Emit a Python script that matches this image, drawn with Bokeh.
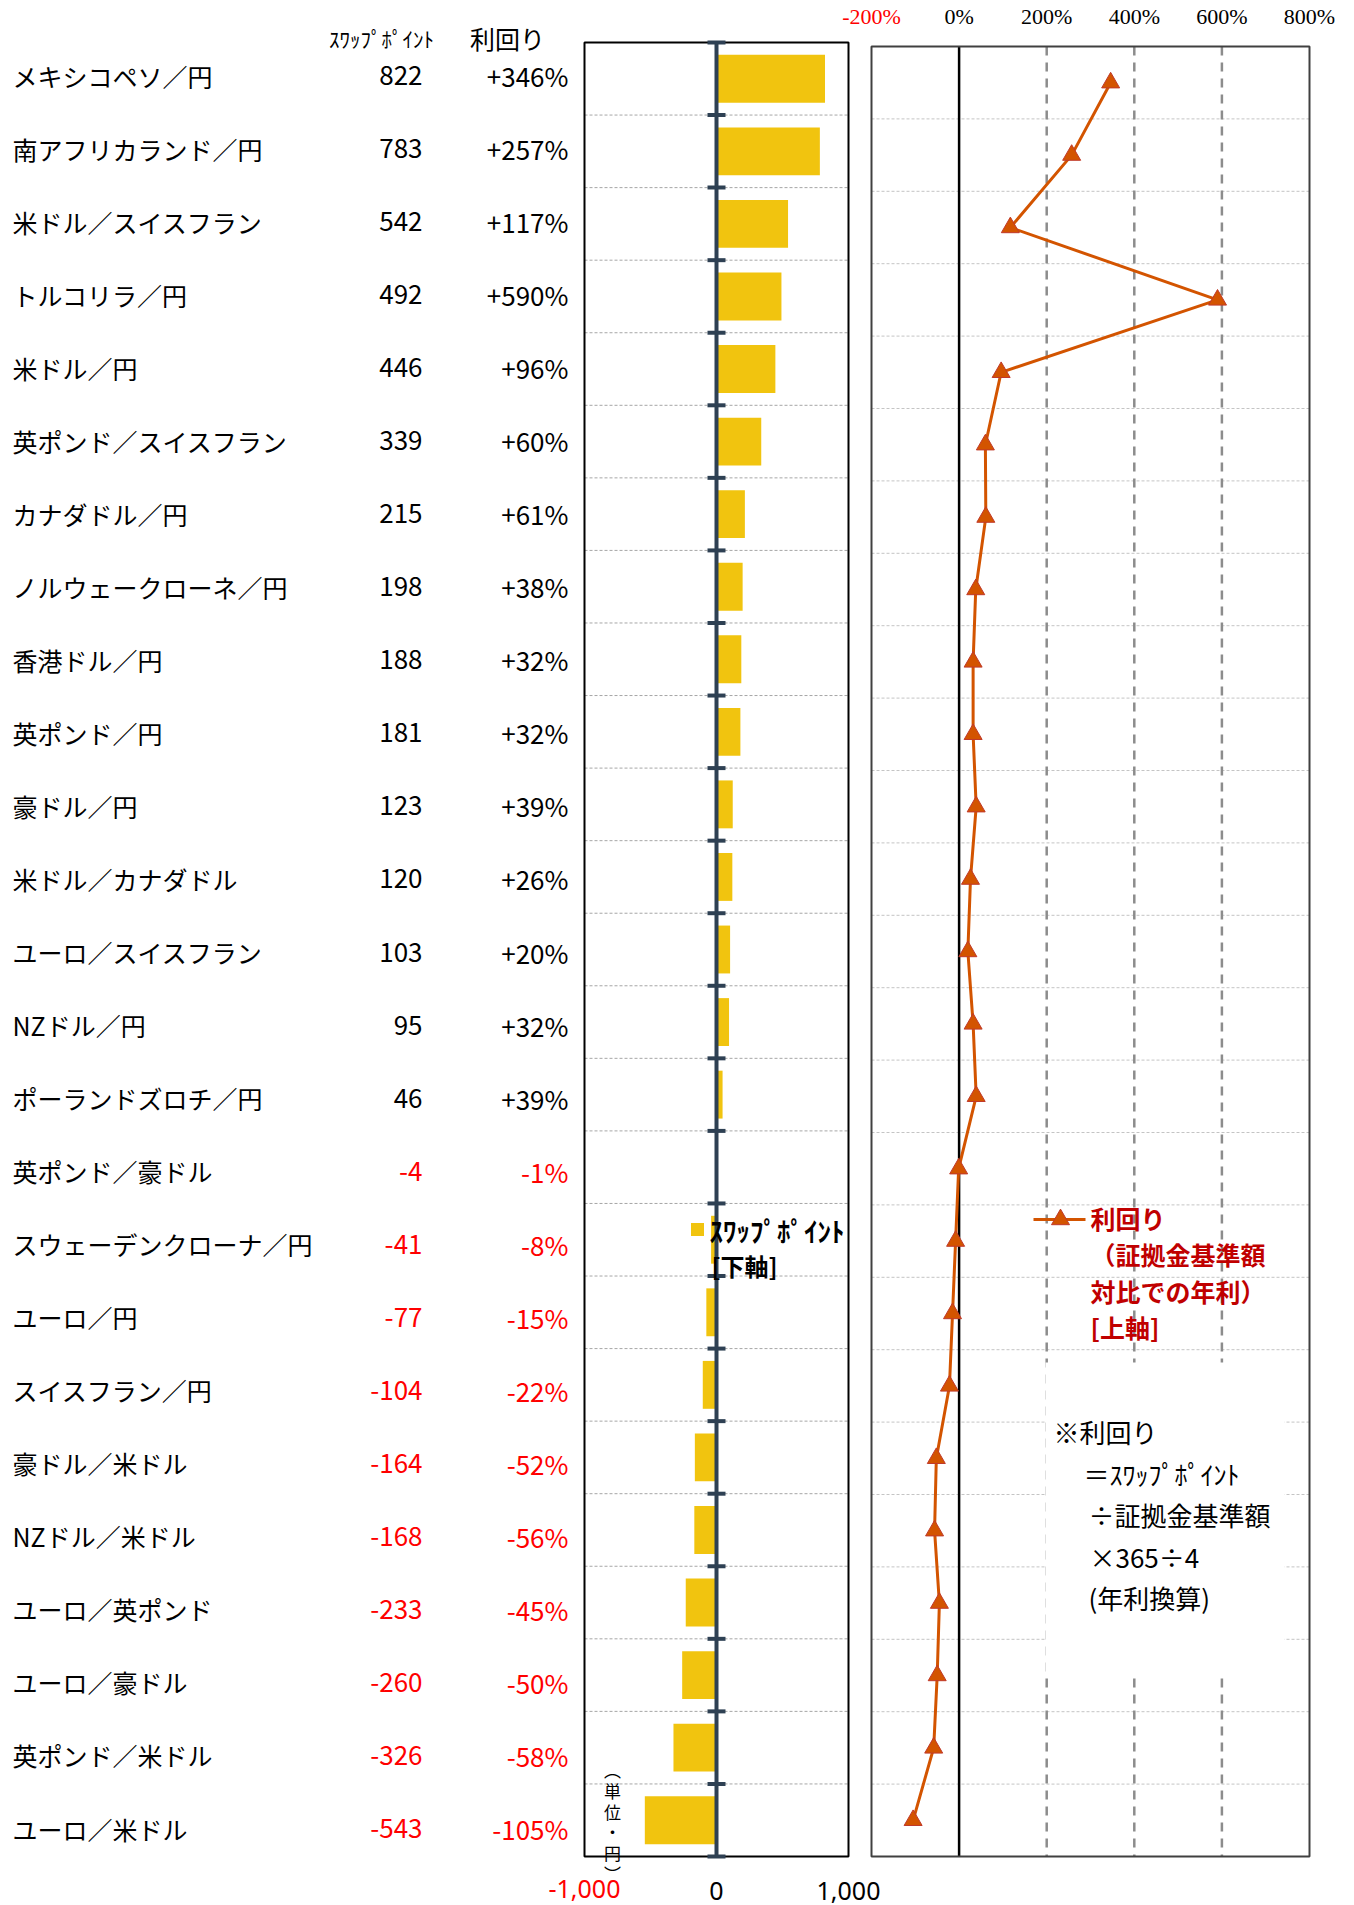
from bokeh.plotting import figure
from bokeh.models import Range1d, LinearAxis, FixedTicker, Label
from bokeh.core.properties import value
from bokeh.embed import file_html
from bokeh.resources import INLINE

# ---------------- data ----------------
names = ["メキシコペソ／円", "南アフリカランド／円", "米ドル／スイスフラン", "トルコリラ／円",
         "米ドル／円", "英ポンド／スイスフラン", "カナダドル／円", "ノルウェークローネ／円",
         "香港ドル／円", "英ポンド／円", "豪ドル／円", "米ドル／カナダドル",
         "ユーロ／スイスフラン", "NZドル／円", "ポーランドズロチ／円", "英ポンド／豪ドル",
         "スウェーデンクローナ／円", "ユーロ／円", "スイスフラン／円", "豪ドル／米ドル",
         "NZドル／米ドル", "ユーロ／英ポンド", "ユーロ／豪ドル", "英ポンド／米ドル", "ユーロ／米ドル"]
swap_points = [822, 783, 542, 492, 446, 339, 215, 198, 188, 181, 123, 120, 103, 95, 46,
               -4, -41, -77, -104, -164, -168, -233, -260, -326, -543]
yields = [346, 257, 117, 590, 96, 60, 61, 38, 32, 32, 39, 26, 20, 32, 39,
          -1, -8, -15, -22, -52, -56, -45, -50, -58, -105]

bar_ticks = [-1000, 0, 1000]
bar_tick_labels = ["-1,000", "0", "1,000"]
yld_ticks = [-200, 0, 200, 400, 600, 800]
yld_tick_labels = ["-200%", "0%", "200%", "400%", "600%", "800%"]

header_swap = "ｽﾜｯﾌﾟﾎﾟｲﾝﾄ"
header_yield = "利回り"
bar_legend_lines = ["ｽﾜｯﾌﾟﾎﾟｲﾝﾄ", "[下軸]"]
line_legend_lines = ["利回り", "（証拠金基準額", "対比での年利）", "[上軸]"]
note_lines = ["※利回り", "＝ｽﾜｯﾌﾟﾎﾟｲﾝﾄ", "÷証拠金基準額", "×365÷4", "(年利換算)"]
unit_label = "︵\n単\n位\n・\n円\n︶"

# ---------------- layout (page pixels) ----------------
W, H = 1350, 1905
FT, FB = 26, 1884            # frame top / bottom
BOX_T, BOX_B = 42, 1856      # bar box
R_T, R_B = 46, 1856          # yield box
TXT_FIRST, TXT_LAST = 75, 1828   # table row text centres
BAR_L, BAR_R = 584, 848
YLD_L, YLD_R = 871, 1309
N = len(names)
BAND = (BOX_B - BOX_T) / N
RBAND = (R_B - R_T) / N
TBAND = (TXT_LAST - TXT_FIRST) / (N - 1)

JP = "Noto Sans CJK JP"
NARROW = "Liberation Sans Narrow"
BLACK = "#000000"
RED = "#FF0000"
BAR_COLOR = "#F1C40F"
LINE_COLOR = "#D35400"
AXIS_DARK = "#2E4053"


def row_range(top, band):
    return Range1d(start=(FB - top) / band - 0.5, end=(FT - top) / band - 0.5)


sb = (BAR_R - BAR_L) / (bar_ticks[-1] - bar_ticks[0])
bar_range = Range1d(start=bar_ticks[0] - BAR_L / sb, end=bar_ticks[-1] + (W - BAR_R) / sb)
sy = (YLD_R - YLD_L) / (yld_ticks[-1] - yld_ticks[0])
yld_range = Range1d(start=yld_ticks[0] - YLD_L / sy, end=yld_ticks[-1] + (W - YLD_R) / sy)

p = figure(width=W, height=H, output_backend="svg", toolbar_location=None,
           x_range=Range1d(0, W), y_range=row_range(BOX_T, BAND),
           x_axis_location=None, y_axis_location=None,
           min_border_left=0, min_border_right=0,
           min_border_top=FT, min_border_bottom=H - FB)
p.extra_x_ranges = {"bar": bar_range, "yld": yld_range}
p.extra_y_ranges = {"yr": row_range(R_T, RBAND),
                    "ty": row_range(TXT_FIRST - TBAND / 2, TBAND),
                    "py": Range1d(start=FB, end=FT)}
p.outline_line_color = None
p.background_fill_color = "white"
p.border_fill_color = "white"
p.grid.visible = False

idx = list(range(N))
bounds = [k + 0.5 for k in range(N - 1)]
edges = [k - 0.5 for k in range(N + 1)]

# ---- bar box ----
p.segment(x0=bar_ticks[0], x1=bar_ticks[-1], y0=bounds, y1=bounds, x_range_name="bar",
          line_color="#A6A6A6", line_width=1, line_dash="3 2")
p.hbar(y=idx, left=0, right=swap_points, height=0.66, x_range_name="bar",
       fill_color=BAR_COLOR, line_color=None)
p.quad(left=bar_ticks[0], right=bar_ticks[-1], top=-0.5, bottom=N - 0.5, x_range_name="bar",
       fill_color=None, line_color="black", line_width=2)
p.segment(x0=0, x1=0, y0=-0.5, y1=N - 0.5, x_range_name="bar",
          line_color=AXIS_DARK, line_width=4)
p.scatter(x=0, y=edges, marker="dash", size=18, line_width=4, line_color=AXIS_DARK,
          x_range_name="bar")

# ---- yield box ----
vgrid = [t for t in yld_ticks if t not in (yld_ticks[0], 0, yld_ticks[-1])]
p.segment(x0=yld_ticks[0], x1=yld_ticks[-1], y0=bounds, y1=bounds,
          x_range_name="yld", y_range_name="yr",
          line_color="#C4C4C4", line_width=1, line_dash="3 2")
p.segment(x0=vgrid, x1=vgrid, y0=-0.5, y1=N - 0.5, x_range_name="yld", y_range_name="yr",
          line_color="#8C8C8C", line_width=2.5, line_dash="9 7")
# white box behind the note
p.quad(left=1045, right=1284, top=1362, bottom=1677, y_range_name="py",
       fill_color="white", line_color=None)
p.segment(x0=0, x1=0, y0=-0.5, y1=N - 0.5, x_range_name="yld", y_range_name="yr",
          line_color="black", line_width=2.5)
p.quad(left=yld_ticks[0], right=yld_ticks[-1], top=-0.5, bottom=N - 0.5,
       x_range_name="yld", y_range_name="yr",
       fill_color=None, line_color="#404040", line_width=2)
p.line(x=yields, y=idx, x_range_name="yld", y_range_name="yr",
       line_color=LINE_COLOR, line_width=3)
p.scatter(x=yields, y=idx, x_range_name="yld", y_range_name="yr", marker="triangle",
          size=18, fill_color=LINE_COLOR, line_color="#C0392B", line_width=1)

# ---- table ----
p.text(x=12, y=idx, y_range_name="ty", text=names, text_font=value(JP),
       text_font_size="25px", text_baseline="middle", text_align="left", text_color=BLACK)
p.text(x=422, y=idx, y_range_name="ty", text=[str(v) for v in swap_points],
       text_font=value(JP), text_font_size="26px", text_baseline="middle", text_align="right",
       text_color=[RED if v < 0 else BLACK for v in swap_points])
p.text(x=568, y=idx, y_range_name="ty", text=[f"{v:+d}%" for v in yields],
       text_font=value(JP), text_font_size="26px", text_baseline="middle", text_align="right",
       text_color=[RED if v < 0 else BLACK for v in yields])
p.text(x=[381, 507], y=[37, 37], y_range_name="py", text=[header_swap, header_yield],
       text_font=value(JP), text_font_size=["21px", "25px"], text_align="center",
       text_baseline="middle", text_color=BLACK)

# ---- legends ----
p.scatter(x=[697], y=[1229], y_range_name="py", marker="square", size=13,
          fill_color=BAR_COLOR, line_color=None)
p.text(x=[709, 711], y=[1230, 1265], y_range_name="py", text=bar_legend_lines,
       text_font=value(JP), text_font_size=["27px", "24px"], text_font_style="bold",
       text_baseline="middle", text_align="left", text_color=BLACK)
p.segment(x0=1033, x1=1085, y0=1219, y1=1219, y_range_name="py",
          line_color=LINE_COLOR, line_width=3)
p.scatter(x=[1060], y=[1219], y_range_name="py", marker="triangle", size=18,
          fill_color=LINE_COLOR, line_color="#C0392B")
p.text(x=1090, y=[1217 + 36.5 * i for i in range(len(line_legend_lines))], y_range_name="py",
       text=line_legend_lines, text_font=value(JP), text_font_size="25px",
       text_font_style="bold", text_baseline="middle", text_align="left", text_color="#C00000")
p.text(x=[1053, 1083, 1088, 1089, 1088], y=[1431 + 41.6 * i for i in range(len(note_lines))],
       y_range_name="py", text=note_lines, text_font=value(JP), text_font_size="26px",
       text_baseline="middle", text_align="left", text_color=BLACK)
p.add_layout(Label(x=612, y=1821, y_range_name="py", text=unit_label, text_font=JP,
                   text_font_size="17px", text_align="center", text_baseline="middle",
                   text_line_height=0.83, text_color=BLACK))


# ---- axes ----
def make_axis(rng, ticks, labels, color, font, size, standoff):
    return LinearAxis(x_range_name=rng, ticker=FixedTicker(ticks=ticks),
                      major_label_overrides=dict(zip(ticks, labels)),
                      axis_line_color=None, major_tick_line_color=None,
                      minor_tick_line_color=None, major_tick_out=0, major_tick_in=0,
                      major_label_standoff=standoff, major_label_text_font=font,
                      major_label_text_font_size=size, major_label_text_color=color)


pos_y = [(t, l) for t, l in zip(yld_ticks, yld_tick_labels) if t >= 0]
neg_y = [(t, l) for t, l in zip(yld_ticks, yld_tick_labels) if t < 0]
p.add_layout(make_axis("yld", [t for t, _ in pos_y], [l for _, l in pos_y], BLACK, NARROW,
                       "22px", -2), "above")
p.add_layout(make_axis("yld", [t for t, _ in neg_y], [l for _, l in neg_y], RED, NARROW,
                       "22px", -28), "above")

pos_b = [(t, l) for t, l in zip(bar_ticks, bar_tick_labels) if t >= 0]
neg_b = [(t, l) for t, l in zip(bar_ticks, bar_tick_labels) if t < 0]
p.add_layout(make_axis("bar", [t for t, _ in pos_b], [l for _, l in pos_b], BLACK,
                       "Noto Sans", "25px", -3), "below")
p.add_layout(make_axis("bar", [t for t, _ in neg_b], [l for _, l in neg_b], RED,
                       "Noto Sans", "25px", -23), "below")

open("out.html", "w").write(file_html(p, INLINE))
